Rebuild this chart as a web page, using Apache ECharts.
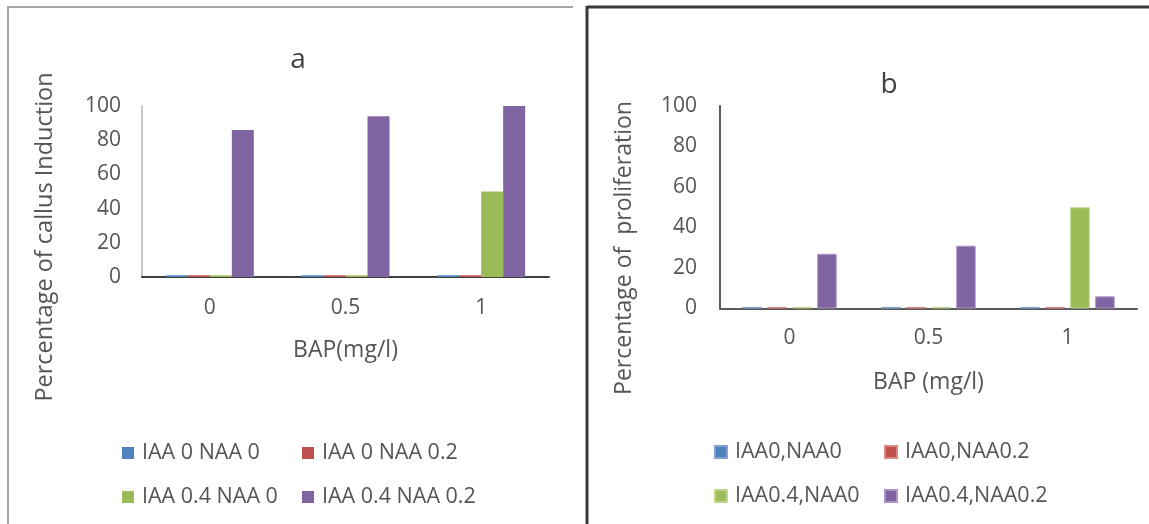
<!DOCTYPE html>
<html>
<head>
<meta charset="utf-8">
<script src="https://cdn.jsdelivr.net/npm/echarts@6/dist/echarts.min.js"></script>
<style>
html,body{margin:0;padding:0;background:#fff;}
#chart{width:1149px;height:524px;}
</style>
</head>
<body>
<div id="chart"></div>
<script>
// ---- data ----
const categories = ['0', '0.5', '1'];
const yTicksMax = 100;

const seriesNamesA = ['IAA 0 NAA 0', 'IAA 0 NAA 0.2', 'IAA 0.4 NAA 0', 'IAA 0.4 NAA 0.2'];
const a_IAA0_NAA0 = [1, 1, 1];
const a_IAA0_NAA02 = [1, 1, 1];
const a_IAA04_NAA0 = [1, 1, 50];
const a_IAA04_NAA02 = [86, 94, 100];

const seriesNamesB = ['IAA0,NAA0', 'IAA0,NAA0.2', 'IAA0.4,NAA0', 'IAA0.4,NAA0.2'];
const b_IAA0_NAA0 = [0.8, 0.8, 0.8];
const b_IAA0_NAA02 = [0.8, 0.8, 0.8];
const b_IAA04_NAA0 = [0.8, 0.8, 50];
const b_IAA04_NAA02 = [27, 31, 6];

const titleA = 'a';
const titleB = 'b';
const yNameA = 'Percentage of callus Induction';
const yNameB = 'Percentage of  proliferation';
const xNameA = 'BAP(mg/l)';
const xNameB = 'BAP (mg/l)';

// ---- styling ----
const colors = ['#4f81bd', '#c0504d', '#9bbb59', '#8064a2'];
const borderColorsB = ['#7fa3d4', '#d98886', '#bcd68a', '#a995c4'];
const FONT = 'Open Sans';
const TXT = '#555555';

const chart = echarts.init(document.getElementById('chart'), null, {renderer: 'canvas'});

const dataA = [a_IAA0_NAA0, a_IAA0_NAA02, a_IAA04_NAA0, a_IAA04_NAA02];
const dataB = [b_IAA0_NAA0, b_IAA0_NAA02, b_IAA04_NAA0, b_IAA04_NAA02];

const series = [];
seriesNamesA.forEach((n, i) => {
  series.push({
    name: n, type: 'bar', xAxisIndex: 0, yAxisIndex: 0,
    data: dataA[i], barWidth: 22, barGap: '0%',
    itemStyle: {color: colors[i]}, silent: true
  });
});
seriesNamesB.forEach((n, i) => {
  series.push({
    name: n, type: 'bar', xAxisIndex: 1, yAxisIndex: 1,
    data: dataB[i], barWidth: 19.5, barGap: '28%',
    itemStyle: {color: colors[i], borderColor: borderColorsB[i], borderWidth: 1}, silent: true
  });
});

function legendItem(name, left, top) {
  return {
    data: [name], left: left, top: top, orient: 'horizontal',
    itemWidth: 12, itemHeight: 12, itemGap: 0, padding: 0,
    icon: 'rect', selectedMode: false,
    textStyle: {fontFamily: FONT, fontSize: 21.5, color: TXT, padding: [0, 0, 0, 3]}
  };
}

const option = {
  animation: false,
  backgroundColor: '#ffffff',
  textStyle: {fontFamily: FONT},
  title: [
    {text: titleA, left: 293, top: 55, textAlign: 'center', textVerticalAlign: 'middle',
     textStyle: {fontFamily: FONT, fontSize: 28, fontWeight: 'normal', color: '#404040'}},
    {text: titleB, left: 884, top: 80, textAlign: 'center', textVerticalAlign: 'middle',
     textStyle: {fontFamily: FONT, fontSize: 28, fontWeight: 'normal', color: '#404040'}}
  ],
  legend: [
    legendItem(seriesNamesA[0], 122, 442),
    legendItem(seriesNamesA[1], 302, 442),
    legendItem(seriesNamesA[2], 122, 486),
    legendItem(seriesNamesA[3], 302, 486),
    legendItem(seriesNamesB[0], 714, 441),
    legendItem(seriesNamesB[1], 884, 441),
    legendItem(seriesNamesB[2], 714, 485),
    legendItem(seriesNamesB[3], 884, 485)
  ],
  grid: [
    {left: 142, top: 106, width: 407, height: 171, containLabel: false},
    {left: 720, top: 106, width: 417, height: 202.5, containLabel: false}
  ],
  xAxis: [
    {type: 'category', gridIndex: 0, data: categories,
     axisLine: {lineStyle: {color: '#404040', width: 2}},
     axisTick: {show: false},
     axisLabel: {fontFamily: FONT, fontSize: 21, color: TXT, margin: 21},
     name: xNameA, nameLocation: 'middle', nameGap: 62,
     nameTextStyle: {fontFamily: FONT, fontSize: 23, color: TXT}},
    {type: 'category', gridIndex: 1, data: categories,
     axisLine: {lineStyle: {color: '#5a5a5a', width: 2}},
     axisTick: {show: false},
     axisLabel: {fontFamily: FONT, fontSize: 21, color: TXT, margin: 19},
     name: xNameB, nameLocation: 'middle', nameGap: 62,
     nameTextStyle: {fontFamily: FONT, fontSize: 23, color: TXT}}
  ],
  yAxis: [
    {type: 'value', gridIndex: 0, min: 0, max: yTicksMax, interval: 20,
     axisLine: {show: true, lineStyle: {color: '#c8c8c8', width: 2}},
     axisTick: {show: false}, splitLine: {show: false},
     axisLabel: {fontFamily: FONT, fontSize: 21, color: TXT, margin: 21}},
    {type: 'value', gridIndex: 1, min: 0, max: yTicksMax, interval: 20,
     axisLine: {show: true, lineStyle: {color: '#5a5a5a', width: 2}},
     axisTick: {show: false}, splitLine: {show: false},
     axisLabel: {fontFamily: FONT, fontSize: 21, color: TXT, margin: 23}}
  ],
  graphic: [
    {type: 'line', shape: {x1: 8, y1: 7, x2: 573, y2: 7}, style: {stroke: '#a6a6a6', lineWidth: 2}, silent: true},
    {type: 'line', shape: {x1: 8, y1: 6, x2: 8, y2: 524}, style: {stroke: '#a6a6a6', lineWidth: 2}, silent: true},
    {type: 'line', shape: {x1: 587, y1: 7, x2: 1149, y2: 7}, style: {stroke: '#383838', lineWidth: 3}, silent: true},
    {type: 'line', shape: {x1: 587, y1: 6, x2: 587, y2: 524}, style: {stroke: '#383838', lineWidth: 3}, silent: true},
    {type: 'text', x: 45, y: 237, rotation: Math.PI / 2,
     style: {text: yNameA, fontFamily: FONT, fontSize: 23.5, fill: TXT, textAlign: 'center', textVerticalAlign: 'middle'}},
    {type: 'text', x: 624, y: 248, rotation: Math.PI / 2,
     style: {text: yNameB, fontFamily: FONT, fontSize: 23, fill: TXT, textAlign: 'center', textVerticalAlign: 'middle'}}
  ],
  series: series
};
chart.setOption(option);
</script>
</body>
</html>
